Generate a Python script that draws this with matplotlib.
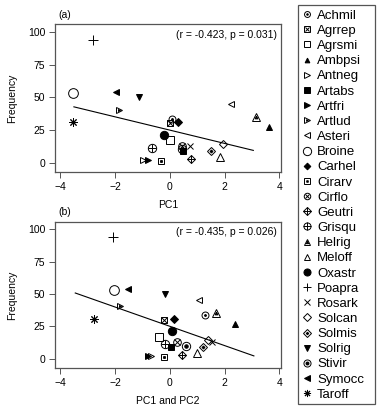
import matplotlib
matplotlib.use("Agg")
import matplotlib.pyplot as plt
from matplotlib.lines import Line2D
from matplotlib.patches import Rectangle

plt.rcParams['font.family'] = ['Liberation Sans', 'DejaVu Sans']
plt.rcParams['font.size'] = 7.5

species = ["Achmil", "Agrrep", "Agrsmi", "Ambpsi", "Antneg", "Artabs", "Artfri",
           "Artlud", "Asteri", "Broine", "Carhel", "Cirarv", "Cirflo", "Geutri",
           "Grisqu", "Helrig", "Meloff", "Oxastr", "Poapra", "Rosark", "Solcan",
           "Solmis", "Solrig", "Stivir", "Symocc", "Taroff"]
freq = [33.5, 30, 17, 27, 2, 9, 2, 40.5, 45, 53.5, 31, 1.5, 12.5, 2.5,
        11.5, 35, 4, 21, 94, 13, 14.5, 9, 50, 10, 54, 31]
pc1 = [0.08, 0.02, 0.02, 3.61, -0.99, 0.48, -0.80, -1.87, 2.25, -3.52, 0.29, -0.31, 0.43, 0.77,
       -0.66, 3.16, 1.82, -0.21, -2.81, 0.72, 1.93, 1.52, -1.13, 0.45, -1.96, -3.54]
pc12 = [1.27, -0.21, -0.38, 2.37, -0.68, 0.04, -0.78, -1.80, 1.07, -2.02, 0.17, -0.22, 0.27, 0.46,
        -0.17, 1.67, 1.01, 0.07, -2.07, 1.53, 1.39, 1.23, -0.19, 0.61, -1.52, -2.78]

# fitted lines (end points)
fit_a_x = [-3.5, 3.05]
fit_a_y = [42.7, 9.3]
fit_b_x = [-3.45, 3.07]
fit_b_y = [50.8, 2.1]

stats_a = "(r = -0.423, p = 0.031)"
stats_b = "(r = -0.435, p = 0.026)"

# marker layers: (marker, filled, size)
sym = {
    "Achmil": [('o', False, 5), ('o', True, 1.3)],
    "Agrrep": [('s', False, 5), ('x', False, 4.2)],
    "Agrsmi": [('s', False, 5.5)],
    "Ambpsi": [('^', True, 4)],
    "Antneg": [('>', False, 5)],
    "Artabs": [('s', True, 4.5)],
    "Artfri": [('>', True, 4.5)],
    "Artlud": [('>', False, 5), ('>', True, 1.5)],
    "Asteri": [('<', False, 5)],
    "Broine": [('o', False, 7)],
    "Carhel": [('D', True, 4)],
    "Cirarv": [('s', False, 5), ('s', True, 1.3)],
    "Cirflo": [('o', False, 5.5), ('x', False, 3.8)],
    "Geutri": [('D', False, 4.5), ('+', False, 6)],
    "Grisqu": [('o', False, 6), ('+', False, 6)],
    "Helrig": [('^', False, 5.5), ('^', True, 2)],
    "Meloff": [('^', False, 5.5)],
    "Oxastr": [('o', True, 6)],
    "Poapra": [('+', False, 7)],
    "Rosark": [('x', False, 5)],
    "Solcan": [('D', False, 4.5)],
    "Solmis": [('D', False, 4.5), ('D', True, 1.5)],
    "Solrig": [('v', True, 5)],
    "Stivir": [('o', False, 6), ('o', True, 2.5)],
    "Symocc": [('<', True, 4.5)],
    "Taroff": [((8, 2, 0), False, 6)],
}

W, H = 381, 413
fig = plt.figure(figsize=(W / 100, H / 100), dpi=100)
ax_a = fig.add_axes([55 / W, 1 - 172.3 / H, 226 / W, 148 / H])
ax_b = fig.add_axes([55 / W, 1 - 368.3 / H, 226 / W, 146.6 / H])


def draw_points(ax, xs):
    for name, x, y in zip(species, xs, freq):
        for m, filled, s in sym[name]:
            ax.plot([x], [y], linestyle='none', marker=m, markersize=s,
                    markerfacecolor='k' if filled else 'none',
                    markeredgecolor='k', markeredgewidth=0.7)


for ax, xs, fx, fy, txt, tag, xlab in [
        (ax_a, pc1, fit_a_x, fit_a_y, stats_a, "(a)", "PC1"),
        (ax_b, pc12, fit_b_x, fit_b_y, stats_b, "(b)", "PC1 and PC2")]:
    draw_points(ax, xs)
    ax.plot(fx, fy, color='k', lw=0.8)
    ax.set_xlim(-4.19, 4.06)
    ax.set_ylim(-7.5, 106)
    ax.set_xticks([-4, -2, 0, 2, 4])
    ax.set_yticks([0, 25, 50, 75, 100])
    ax.tick_params(direction='out', length=4, width=0.7, pad=3, color='#555555')
    for sp in ax.spines.values():
        sp.set_color('#555555')
        sp.set_linewidth(0.9)
    ax.set_ylabel("Frequency", labelpad=8)
    ax.set_xlabel(xlab, labelpad=6)
    ax.text(0.982, 0.928, txt, transform=ax.transAxes, ha='right', va='center')
    ax.text(0.015, 1.065, tag, transform=ax.transAxes, ha='left', va='center')

handles = []
for name in species:
    layers = []
    for m, filled, s in sym[name]:
        layers.append(Line2D([], [], linestyle='none', marker=m, markersize=s * 0.85,
                             markerfacecolor='k' if filled else 'none',
                             markeredgecolor='k', markeredgewidth=0.7))
    handles.append(tuple(layers))

# legend box drawn by hand, legend itself without frame
fig.patches.append(Rectangle((298 / W, 1 - 404 / H), 77 / W, 399 / H, transform=fig.transFigure,
                             fill=False, edgecolor='#555555', linewidth=0.9))
leg = fig.legend(handles, species, loc='upper left', bbox_to_anchor=(298 / W, 1 - 5.5 / H),
                 frameon=False, fontsize=9.5, handlelength=0.75, handletextpad=0.4,
                 labelspacing=0.222, borderpad=0.3, borderaxespad=0)

fig.savefig("out.png", dpi=100)
